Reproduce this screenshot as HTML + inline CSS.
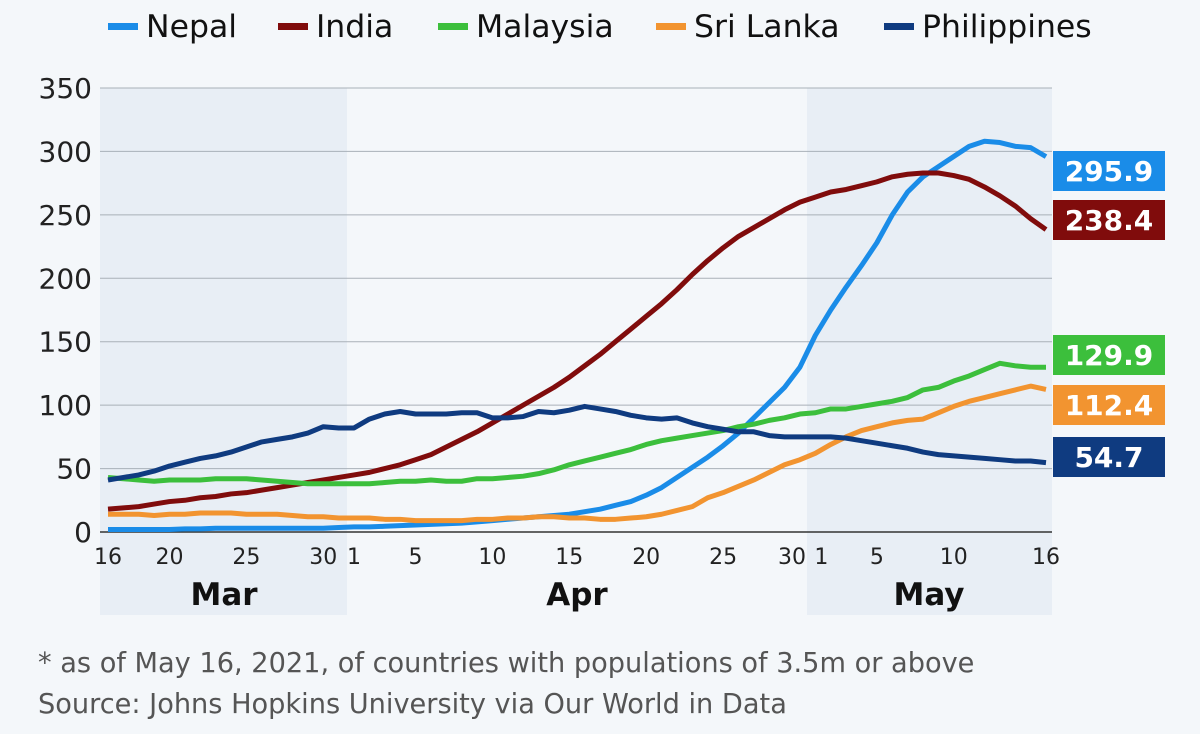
<!DOCTYPE html>
<html><head><meta charset="utf-8"><style>
body{margin:0;background:#f4f7fa;font-family:"Liberation Sans","DejaVu Sans",sans-serif;}
svg text{font-family:"DejaVu Sans","Liberation Sans",sans-serif;}
</style></head><body>
<svg id="chart" width="1200" height="729" xmlns="http://www.w3.org/2000/svg">
<rect width="1200" height="729" fill="#f4f7fa"/>
<g id="bg"></g><g id="grid"></g><g id="lines"></g><g id="labels"></g><g id="legend"></g>
<text x="38" y="672" font-size="27.2" fill="#555">* as of May 16, 2021, of countries with populations of 3.5m or above</text>
<text x="38" y="713" font-size="27.2" fill="#555">Source: Johns Hopkins University via Our World in Data</text>
</svg>
<script>
const seriesNames=["Nepal","India","Malaysia","Sri Lanka","Philippines"];
const seriesColors=["#1a8ce8","#800c0c","#3cbf3c","#f29430","#0f3b80"];
const nepal=[2,2,2,2,2,2.5,2.5,3,3,3,3,3,3,3,3,3.5,4,4,4.5,5,5.5,6,6.5,7,8,9,10,11,12,13,14,16,18,21,24,29,35,43,51,59,68,78,90,102,114,130,155,175,193,210,228,250,268,280,288,296,304,308,307,304,303,295.9];
const india=[18,19,20,22,24,25,27,28,30,31,33,35,37,39,41,43,45,47,50,53,57,61,67,73,79,86,93,100,107,114,122,131,140,150,160,170,180,191,203,214,224,233,240,247,254,260,264,268,270,273,276,280,282,283,283,281,278,272,265,257,247,238.4];
const malaysia=[43,42,41,40,41,41,41,42,42,42,41,40,39,38,38,38,38,38,39,40,40,41,40,40,42,42,43,44,46,49,53,56,59,62,65,69,72,74,76,78,80,83,85,88,90,93,94,97,97,99,101,103,106,112,114,119,123,128,133,131,129.9,129.9];
const srilanka=[14,14,14,13,14,14,15,15,15,14,14,14,13,12,12,11,11,11,10,10,9,9,9,9,10,10,11,11,12,12,11,11,10,10,11,12,14,17,20,27,31,36,41,47,53,57,62,69,75,80,83,86,88,89,94,99,103,106,109,112,115,112.4];
const philippines=[41,43,45,48,52,55,58,60,63,67,71,73,75,78,83,82,82,89,93,95,93,93,93,94,94,90,90,91,95,94,96,99,97,95,92,90,89,90,86,83,81,79,79,76,75,75,75,75,74,72,70,68,66,63,61,60,59,58,57,56,56,54.7];
const yTicks=[0,50,100,150,200,250,300,350];
const xTickDays=[0,4,9,14,16,20,25,30,35,40,45,46,50,55,61];
const xTickLabels=["16","20","25","30","1","5","10","15","20","25","30","1","5","10","16"];
const xTickNudge=[0,0,0,0,0,0,0,0,0,0,-8,6,0,0,0];
const months=["Mar","Apr","May"];
const endLabels=["295.9","238.4","129.9","112.4","54.7"];
const endLabelY=[171,220,355,405,457];
const all=[nepal,india,malaysia,srilanka,philippines];
const NS="http://www.w3.org/2000/svg";
const x=d=>108+d*(938/61), y=v=>532-v*(444/350);
function mk(t,a,p){const e=document.createElementNS(NS,t);for(const k in a)e.setAttribute(k,a[k]);p.appendChild(e);return e;}
const bg=document.getElementById('bg');
let r=mk('rect',{x:100,y:88,width:247,height:527,fill:'#e8eef5'},bg);


r=mk('rect',{x:807,y:88,width:245,height:527,fill:'#e8eef5'},bg);


const g=document.getElementById('grid');
yTicks.forEach(v=>{
 if(v>0){const l=mk('line',{x1:100,x2:1052,y1:y(v),y2:y(v),stroke:'#a9b0b8','stroke-width':1},g);
 
 }
 const t=mk('text',{x:92,y:y(v)+10,'text-anchor':'end','font-size':28,fill:'#222'},g);t.textContent=v;
 
 
});
const ax=mk('line',{x1:100,x2:1052,y1:532,y2:532,stroke:'#333','stroke-width':1.5},g);


xTickDays.forEach((d,i)=>{
 const t=mk('text',{x:x(d)+xTickNudge[i],y:564,'text-anchor':'middle','font-size':22,fill:'#222'},g);t.textContent=xTickLabels[i];
 
 
});
[224,577,929].forEach((px,i)=>{
 const t=mk('text',{x:px,y:605,'text-anchor':'middle','font-size':31,'font-weight':'bold',fill:'#111'},g);t.textContent=months[i];
 
 
});
const L=document.getElementById('lines'),lab=document.getElementById('labels'),lg=document.getElementById('legend');
all.forEach((s,i)=>{
 const p=mk('polyline',{points:s.map((v,d)=>x(d)+','+y(v)).join(' '),fill:'none',stroke:seriesColors[i],'stroke-width':5,'stroke-linejoin':'round'},L);
 
 
 const b=mk('rect',{x:1053,y:endLabelY[i]-20,width:112,height:40,fill:seriesColors[i]},lab);
 
 
 const t=mk('text',{x:1109,y:endLabelY[i]+10,'text-anchor':'middle','font-size':28,'font-weight':'bold',fill:'#fff'},lab);t.textContent=endLabels[i];
 
 
});
const lx=[108,278,438,656,884];
seriesNames.forEach((n,i)=>{
 const m=mk('rect',{x:lx[i],y:23,width:30,height:7,fill:seriesColors[i]},lg);
 
 
 const t=mk('text',{x:lx[i]+38,y:37,'font-size':31.5,fill:'#111'},lg);t.textContent=n;
 
 
});
</script>
</body></html>
